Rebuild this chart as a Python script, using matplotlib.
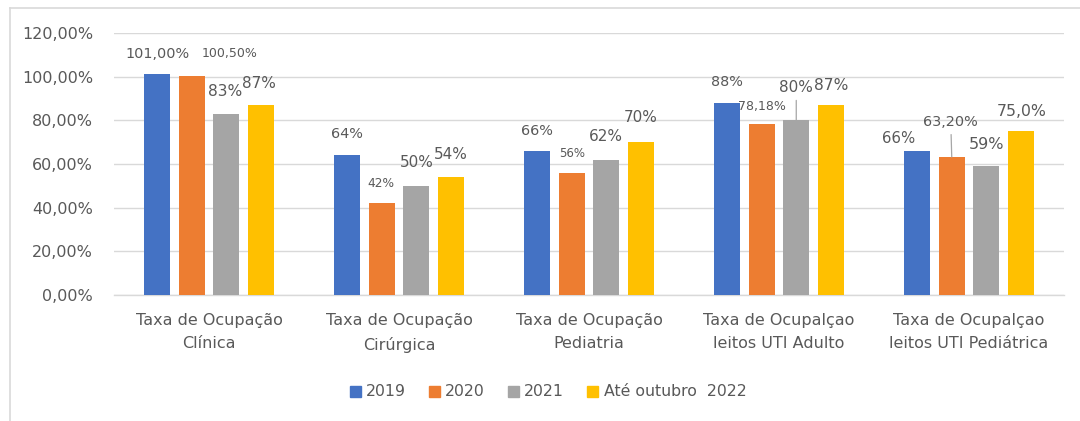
import matplotlib
matplotlib.use("Agg")
import matplotlib.pyplot as plt
import numpy as np
from matplotlib.lines import Line2D

categories = ["Taxa de Ocupação\nClínica", "Taxa de Ocupação\nCirúrgica",
              "Taxa de Ocupação\nPediatria", "Taxa de Ocupalçao\nleitos UTI Adulto",
              "Taxa de Ocupalçao\nleitos UTI Pediátrica"]
series_names = ["2019", "2020", "2021", "Até outubro  2022"]
v2019 = [101.0, 64.0, 66.0, 88.0, 66.0]
v2020 = [100.5, 42.0, 56.0, 78.18, 63.2]
v2021 = [83.0, 50.0, 62.0, 80.0, 59.0]
v2022 = [87.0, 54.0, 70.0, 87.0, 75.0]
l2019 = ["101,00%", "64%", "66%", "88%", "66%"]
l2020 = ["100,50%", "42%", "56%", "78,18%", "63,20%"]
l2021 = ["83%", "50%", "62%", "80%", "59%"]
l2022 = ["87%", "54%", "70%", "87%", "75,0%"]
yticks = [0, 20, 40, 60, 80, 100, 120]
ytick_labels = ["0,00%", "20,00%", "40,00%", "60,00%", "80,00%", "100,00%", "120,00%"]

values = [v2019, v2020, v2021, v2022]
labels = [l2019, l2020, l2021, l2022]
colors = ["#4472C4", "#ED7D31", "#A5A5A5", "#FFC000"]
TXT = "#595959"

# label style: offsets in pixels (dx, dy above bar top), font size, leader line
offsets = [
    [(0.5, 20.5), (0, 21), (0, 20), (0, 21), (-18.5, 12)],
    [(38, 21.6), (-1, 20), (0, 19), (0, 18), (-1, 35)],
    [(-1, 22), (1, 23), (0, 23), (0, 33), (0.5, 22)],
    [(-1.5, 22), (0, 23), (0, 25), (0, 20), (0.5, 20)],
]
fsizes = [
    [10.4, 10.4, 10.4, 10.4, 10.7],
    [9.0, 8.7, 8.5, 9.0, 10.4],
    [11.2, 11.0, 11.0, 11.0, 11.5],
    [11.0, 11.0, 11.0, 11.2, 11.3],
]
leaders = {(2, 3), (1, 4)}

W, H = 1080, 421
fig = plt.figure(figsize=(W / 100, H / 100), dpi=100)
ax = fig.add_axes([114 / W, 1 - 295 / H, 950 / W, 262 / H])

x = np.arange(len(categories))
pitch = 0.1816
width = 0.139
for i, (vals, col, name) in enumerate(zip(values, colors, series_names)):
    pos = x + (i - 1.5) * pitch
    ax.bar(pos, vals, width=width, color=col, label=name, zorder=3)
    for j, (xx, vv) in enumerate(zip(pos, vals)):
        dx, dy = offsets[i][j]
        kw = {}
        if (i, j) in leaders:
            kw["arrowprops"] = dict(arrowstyle="-", color="#A6A6A6", lw=0.9,
                                    shrinkA=2, shrinkB=0)
        ax.annotate(labels[i][j], xy=(xx, vv), xytext=(dx * 0.72, dy * 0.72),
                    textcoords="offset points", ha="center", va="center",
                    fontsize=fsizes[i][j], color=TXT, zorder=4, **kw)

ax.set_xlim(-0.5, len(categories) - 0.5)
ax.set_ylim(0, 120)
ax.set_yticks(yticks)
ax.set_yticklabels(ytick_labels)
ax.set_xticks(x)
ax.set_xticklabels(categories, linespacing=1.7)
ax.tick_params(axis="y", length=0, pad=15, labelsize=11.5, labelcolor=TXT)
ax.tick_params(axis="x", length=0, pad=13, labelsize=11.5, labelcolor=TXT)
ax.grid(axis="y", color="#D9D9D9", lw=1.0, zorder=0)
for s in ["top", "right", "left"]:
    ax.spines[s].set_visible(False)
ax.spines["bottom"].set_color("#D9D9D9")
ax.spines["bottom"].set_linewidth(1.0)

handles = [plt.Rectangle((0, 0), 1, 1, color=c) for c in colors]
fig.legend(handles, series_names, loc="center", bbox_to_anchor=(548 / W, 1 - 392 / H),
           ncol=4, frameon=False, fontsize=11.3, labelcolor=TXT,
           handlelength=0.7, handleheight=0.7, handletextpad=0.35,
           columnspacing=1.45)

# chart frame (top and left edges)
fig.add_artist(Line2D([10 / W, 10 / W], [0, 1 - 8 / H], transform=fig.transFigure,
                      color="#D9D9D9", lw=1.2))
fig.add_artist(Line2D([10 / W, 1], [1 - 8 / H, 1 - 8 / H], transform=fig.transFigure,
                      color="#D9D9D9", lw=1.2))

fig.savefig("out.png", dpi=100)
